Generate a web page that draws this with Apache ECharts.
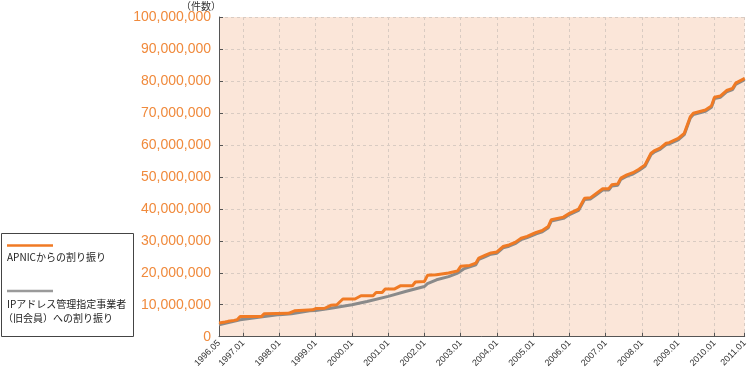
<!DOCTYPE html>
<html>
<head>
<meta charset="utf-8">
<script src="https://cdn.jsdelivr.net/npm/echarts@6/dist/echarts.min.js"></script>
<style>html,body{margin:0;padding:0;background:#fff;}#c{width:750px;height:370px;}</style>
</head>
<body>
<div id="c"></div>
<script>
// Category (x) axis: monthly from 1996.05, last category 2011.01
const firstYear = 1996, firstMonth = 5, lastYear = 2010, lastMonth = 10;
const endLabel = '2011.01';
const yTicks = [0, 10000000, 20000000, 30000000, 40000000, 50000000, 60000000, 70000000, 80000000, 90000000, 100000000];

const seriesNames = ['APNICからの割り振り', 'IPアドレス管理指定事業者（旧会員）への割り振り'];

const apnicMonths = ['1996.05','1996.07','1996.08','1996.10','1996.11','1996.12','1997.07','1997.08','1998.04','1998.06','1998.12','1999.01','1999.04','1999.06','1999.08','1999.10','2000.02','2000.04','2000.08','2000.09','2000.11','2000.12','2001.03','2001.05','2001.09','2001.10','2002.01','2002.02','2002.05','2002.09','2002.12','2003.01','2003.04','2003.06','2003.07','2003.09','2003.11','2004.01','2004.03','2004.05','2004.07','2004.09','2004.11','2005.01','2005.02','2005.04','2005.06','2005.07','2005.11','2006.01','2006.04','2006.06','2006.08','2006.10','2006.12','2007.02','2007.03','2007.05','2007.06','2007.08','2007.10','2007.12','2008.02','2008.04','2008.05','2008.07','2008.09','2008.10','2009.01','2009.03','2009.05','2009.06','2009.10','2009.12','2010.01','2010.03','2010.05','2010.07','2010.08','2011.01'];
const apnicValues = [4300000,4600000,4800000,5100000,5300000,6300000,6300000,7200000,7300000,8100000,8400000,8800000,8900000,9800000,10000000,11800000,11800000,12800000,12800000,13800000,13800000,14900000,14900000,15900000,15900000,17100000,17300000,19200000,19400000,19900000,20600000,22000000,22300000,23000000,24600000,25400000,26200000,26500000,28200000,28700000,29500000,30800000,31400000,32200000,32600000,33200000,34500000,36600000,37400000,38600000,39900000,43300000,43500000,44900000,46300000,46300000,47500000,47800000,49600000,50600000,51300000,52400000,53750000,57400000,58100000,59000000,60500000,60700000,62000000,63600000,68800000,69900000,70900000,72200000,74900000,75300000,77000000,77700000,79300000,80800000];

const memberMonths = ['1996.05','1996.12','1997.08','1998.01','1998.05','1998.11','1999.01','1999.06','2000.01','2000.06','2001.01','2001.07','2002.01','2002.02','2002.05','2002.09','2002.12','2003.02','2003.06','2003.07','2003.09','2003.11','2004.01','2004.03','2004.05','2004.07','2004.09','2004.11','2005.01','2005.02','2005.04','2005.06','2005.07','2005.11','2006.01','2006.04','2006.06','2006.08','2006.10','2006.12','2007.02','2007.03','2007.05','2007.06','2007.08','2007.10','2007.12','2008.02','2008.04','2008.05','2008.07','2008.09','2008.10','2009.01','2009.03','2009.05','2009.06','2009.10','2009.12','2010.01','2010.03','2010.05','2010.07','2010.08','2011.01'];
const memberValues = [3750000,5300000,6300000,6900000,7200000,8100000,8200000,8900000,10000000,11000000,12600000,14200000,15700000,16600000,17800000,18800000,19900000,21200000,22500000,24200000,25000000,25800000,26100000,27800000,28300000,29100000,30400000,31000000,31800000,32200000,32800000,34100000,36200000,37000000,38200000,39500000,42900000,43100000,44500000,45900000,45900000,47100000,47400000,49200000,50200000,50900000,52000000,53300000,57000000,57700000,58600000,60100000,60300000,61600000,63200000,68400000,69500000,70500000,71800000,74500000,74900000,76600000,77300000,78900000,80400000];

const categories = [];
for (let y = firstYear, m = firstMonth; y < lastYear || (y === lastYear && m <= lastMonth); ) {
  categories.push(y + '.' + (m < 10 ? '0' + m : '' + m));
  m++; if (m > 12) { m = 1; y++; }
}
categories.push(endLabel);

const showTick = (i, v) => i === 0 || /\.01$/.test(v);
const pair = (ms, vs) => ms.map((m, i) => [m, vs[i]]);

const chart = echarts.init(document.getElementById('c'), null, {renderer: 'canvas'});
const numFont = '"Liberation Sans", Arial, Helvetica, sans-serif';
const jpFont = '"Noto Sans CJK JP", sans-serif';

chart.setOption({
  animation: false,
  backgroundColor: '#ffffff',
  grid: {left: 219, right: 3, top: 17, bottom: 33, show: true, backgroundColor: '#fbe6d9', borderWidth: 0},
  xAxis: {
    type: 'category', data: categories, boundaryGap: false,
    axisLine: {lineStyle: {color: '#555555', width: 1}},
    axisTick: {inside: true, length: 4, interval: showTick, lineStyle: {color: '#555555'}},
    axisLabel: {interval: showTick, rotate: 45, fontSize: 9, color: '#333333', fontFamily: numFont, margin: 5},
    splitLine: {show: true, interval: showTick, lineStyle: {color: '#d9cbc2', type: [3, 3], width: 1}}
  },
  yAxis: {
    type: 'value', min: yTicks[0], max: yTicks[yTicks.length - 1], interval: yTicks[1] - yTicks[0],
    axisLine: {show: true, lineStyle: {color: '#555555', width: 1}},
    axisTick: {show: true, inside: true, length: 4, lineStyle: {color: '#555555'}},
    axisLabel: {fontSize: 14, color: '#f08a3c', fontFamily: numFont, margin: 8,
      formatter: v => v.toLocaleString('en-US')},
    splitLine: {show: true, lineStyle: {color: '#d9cbc2', type: [3, 3], width: 1}}
  },
  series: [
    {name: seriesNames[1], type: 'line', data: pair(memberMonths, memberValues), showSymbol: false, symbol: 'none',
      lineStyle: {color: '#8a8a8a', width: 3}, z: 2},
    {name: seriesNames[0], type: 'line', data: pair(apnicMonths, apnicValues), showSymbol: false, symbol: 'none',
      lineStyle: {color: '#f07a24', width: 3}, z: 3}
  ],
  graphic: [
    {type: 'text', left: 181, top: 1, style: {text: '（件数）', fontSize: 10, fill: '#333333', fontFamily: jpFont}},
    {type: 'rect', shape: {x: 1.5, y: 233.5, width: 132, height: 103}, style: {fill: '#ffffff', stroke: '#444444', lineWidth: 1}},
    {type: 'line', shape: {x1: 7, y1: 245.5, x2: 53, y2: 245.5}, style: {stroke: '#f07a24', lineWidth: 2.5}},
    {type: 'text', left: 7, top: 252, style: {text: seriesNames[0], fontSize: 10, fill: '#222222', fontFamily: jpFont}},
    {type: 'line', shape: {x1: 7, y1: 291, x2: 53, y2: 291}, style: {stroke: '#9a9a9a', lineWidth: 2.5}},
    {type: 'text', left: 7, top: 299, style: {text: 'IPアドレス管理指定事業者', fontSize: 10, fill: '#222222', fontFamily: jpFont}},
    {type: 'text', left: 3, top: 313, style: {text: '（旧会員）への割り振り', fontSize: 10, fill: '#222222', fontFamily: jpFont}}
  ]
});
</script>
</body>
</html>
